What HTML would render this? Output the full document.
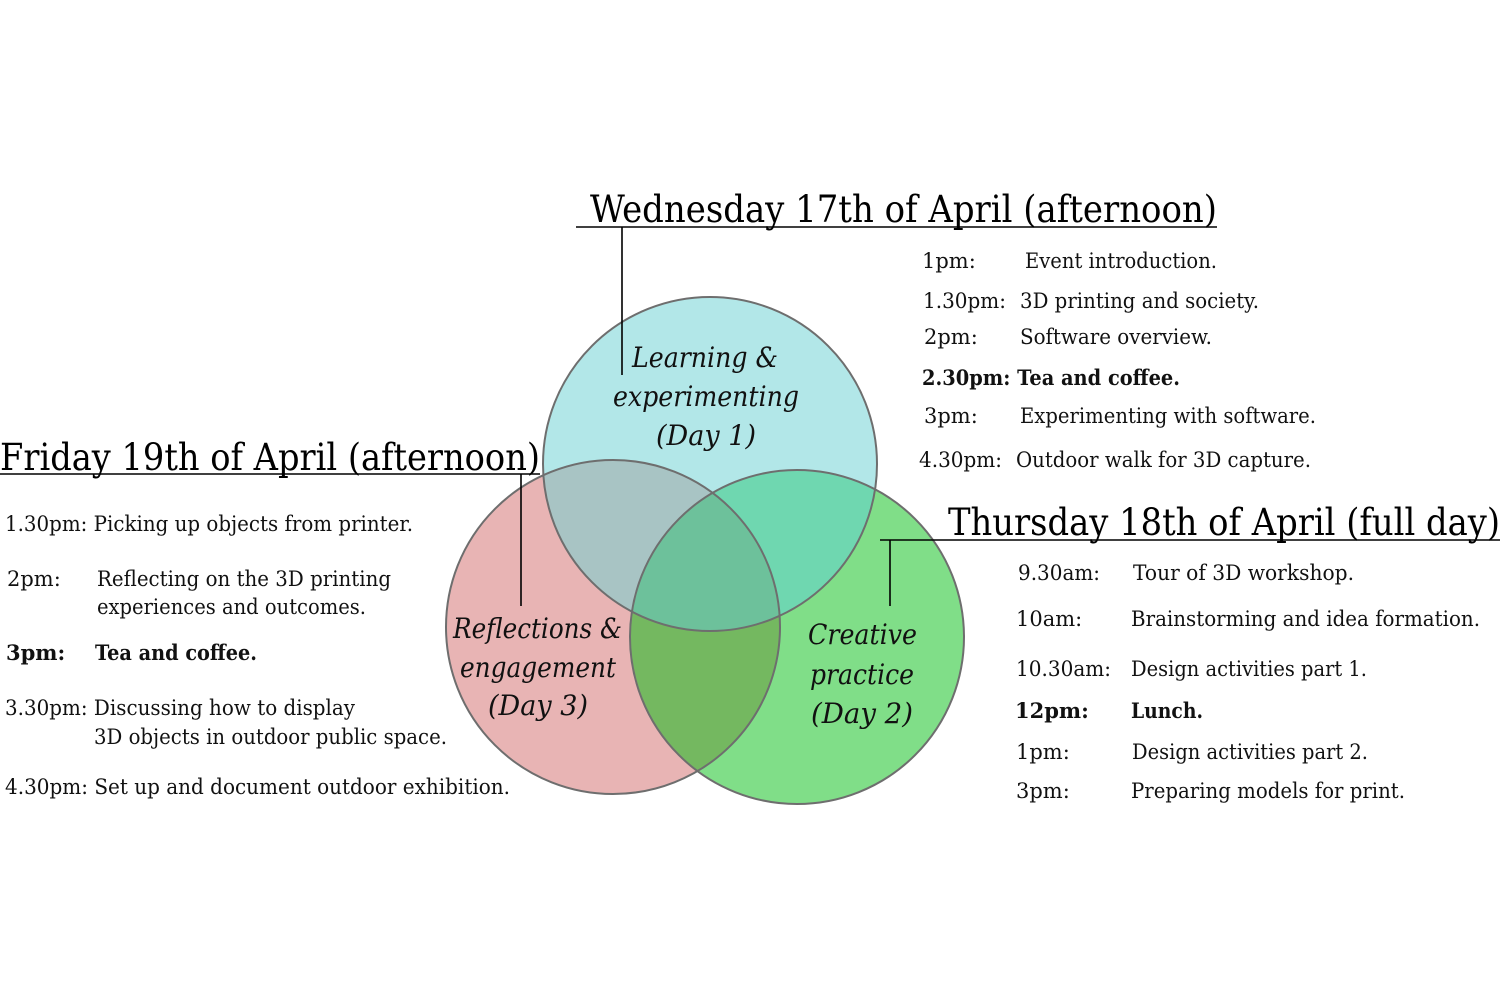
<!DOCTYPE html>
<html><head><meta charset="utf-8"><style>html,body{margin:0;padding:0;background:#fff}svg{display:block}</style></head>
<body>
<svg width="1500" height="1000" viewBox="0 0 1500 1000" xmlns="http://www.w3.org/2000/svg" font-family="'DejaVu Serif','Liberation Serif',serif">
<defs>
<clipPath id="cR"><circle cx="613" cy="627" r="167"/></clipPath>
<clipPath id="cG"><circle cx="797" cy="637" r="167"/></clipPath>
<clipPath id="cC"><circle cx="710" cy="464" r="167"/></clipPath>
</defs>
<rect width="1500" height="1000" fill="#fff"/>
<circle cx="613" cy="627" r="167" fill="#e8b4b4"/>
<circle cx="797" cy="637" r="167" fill="#80de88"/>
<circle cx="710" cy="464" r="167" fill="#b2e7e8"/>
<circle cx="797" cy="637" r="167" fill="#74b860" clip-path="url(#cR)"/>
<circle cx="710" cy="464" r="167" fill="#a8c4c4" clip-path="url(#cR)"/>
<circle cx="710" cy="464" r="167" fill="#6fd7b0" clip-path="url(#cG)"/>
<g clip-path="url(#cR)"><circle cx="710" cy="464" r="167" fill="#6dc19b" clip-path="url(#cG)"/></g>
<g fill="none" stroke="#6e6e6e" stroke-width="2">
<circle cx="613" cy="627" r="167"/><circle cx="797" cy="637" r="167"/><circle cx="710" cy="464" r="167"/>
</g>
<g stroke="#000" stroke-width="1.6" fill="none">
<path d="M576 227H1217M622 227V375"/>
<path d="M0 474H540M521 474V606"/>
<path d="M880 540H1500M890 540V606"/>
</g>
<g font-size="37" fill="#000">
<text x="590" y="222" textLength="627" lengthAdjust="spacingAndGlyphs">Wednesday 17th of April (afternoon)</text>
<text x="0" y="470" textLength="540" lengthAdjust="spacingAndGlyphs">Friday 19th of April (afternoon)</text>
<text x="948" y="535" textLength="552" lengthAdjust="spacingAndGlyphs">Thursday 18th of April (full day)</text>
</g>
<g font-size="28" font-style="italic" fill="#111">
<text x="632" y="367" textLength="146" lengthAdjust="spacingAndGlyphs">Learning &amp;</text>
<text x="613" y="406" textLength="186" lengthAdjust="spacingAndGlyphs">experimenting</text>
<text x="656" y="445" textLength="100" lengthAdjust="spacingAndGlyphs">(Day 1)</text>
<text x="453" y="638" textLength="169" lengthAdjust="spacingAndGlyphs">Reflections &amp;</text>
<text x="460" y="677" textLength="156" lengthAdjust="spacingAndGlyphs">engagement</text>
<text x="488" y="715" textLength="100" lengthAdjust="spacingAndGlyphs">(Day 3)</text>
<text x="808" y="644" textLength="109" lengthAdjust="spacingAndGlyphs">Creative</text>
<text x="810" y="684" textLength="104" lengthAdjust="spacingAndGlyphs">practice</text>
<text x="811" y="723" textLength="102" lengthAdjust="spacingAndGlyphs">(Day 2)</text>
</g>
<g font-size="21" fill="#111">
<text x="5" y="531" textLength="408" lengthAdjust="spacingAndGlyphs">1.30pm: Picking up objects from printer.</text>
<text x="7" y="586">2pm:</text><text x="97" y="586" textLength="294" lengthAdjust="spacingAndGlyphs">Reflecting on the 3D printing</text>
<text x="97" y="614" textLength="269" lengthAdjust="spacingAndGlyphs">experiences and outcomes.</text>
<text x="6" y="660" font-weight="bold">3pm:</text><text x="95" y="660" font-weight="bold" textLength="162" lengthAdjust="spacingAndGlyphs">Tea and coffee.</text>
<text x="5" y="715" textLength="350" lengthAdjust="spacingAndGlyphs">3.30pm: Discussing how to display</text>
<text x="94" y="744" textLength="353" lengthAdjust="spacingAndGlyphs">3D objects in outdoor public space.</text>
<text x="5" y="794" textLength="505" lengthAdjust="spacingAndGlyphs">4.30pm: Set up and document outdoor exhibition.</text>

<text x="922" y="268">1pm:</text><text x="1025" y="268" textLength="192" lengthAdjust="spacingAndGlyphs">Event introduction.</text>
<text x="923" y="308" textLength="83" lengthAdjust="spacingAndGlyphs">1.30pm:</text><text x="1020" y="308" textLength="239" lengthAdjust="spacingAndGlyphs">3D printing and society.</text>
<text x="924" y="344">2pm:</text><text x="1020" y="344" textLength="192" lengthAdjust="spacingAndGlyphs">Software overview.</text>
<text x="922" y="385" font-weight="bold" textLength="258" lengthAdjust="spacingAndGlyphs">2.30pm: Tea and coffee.</text>
<text x="924" y="423">3pm:</text><text x="1020" y="423" textLength="296" lengthAdjust="spacingAndGlyphs">Experimenting with software.</text>
<text x="919" y="467" textLength="83" lengthAdjust="spacingAndGlyphs">4.30pm:</text><text x="1016" y="467" textLength="295" lengthAdjust="spacingAndGlyphs">Outdoor walk for 3D capture.</text>

<text x="1018" y="580" textLength="82" lengthAdjust="spacingAndGlyphs">9.30am:</text><text x="1133" y="580" textLength="221" lengthAdjust="spacingAndGlyphs">Tour of 3D workshop.</text>
<text x="1016" y="626">10am:</text><text x="1131" y="626" textLength="349" lengthAdjust="spacingAndGlyphs">Brainstorming and idea formation.</text>
<text x="1016" y="676" textLength="95" lengthAdjust="spacingAndGlyphs">10.30am:</text><text x="1131" y="676" textLength="236" lengthAdjust="spacingAndGlyphs">Design activities part 1.</text>
<text x="1015" y="718" font-weight="bold">12pm:</text><text x="1131" y="718" font-weight="bold" textLength="72" lengthAdjust="spacingAndGlyphs">Lunch.</text>
<text x="1016" y="759">1pm:</text><text x="1132" y="759" textLength="236" lengthAdjust="spacingAndGlyphs">Design activities part 2.</text>
<text x="1016" y="798">3pm:</text><text x="1131" y="798" textLength="274" lengthAdjust="spacingAndGlyphs">Preparing models for print.</text>
</g>
</svg>
</body></html>
